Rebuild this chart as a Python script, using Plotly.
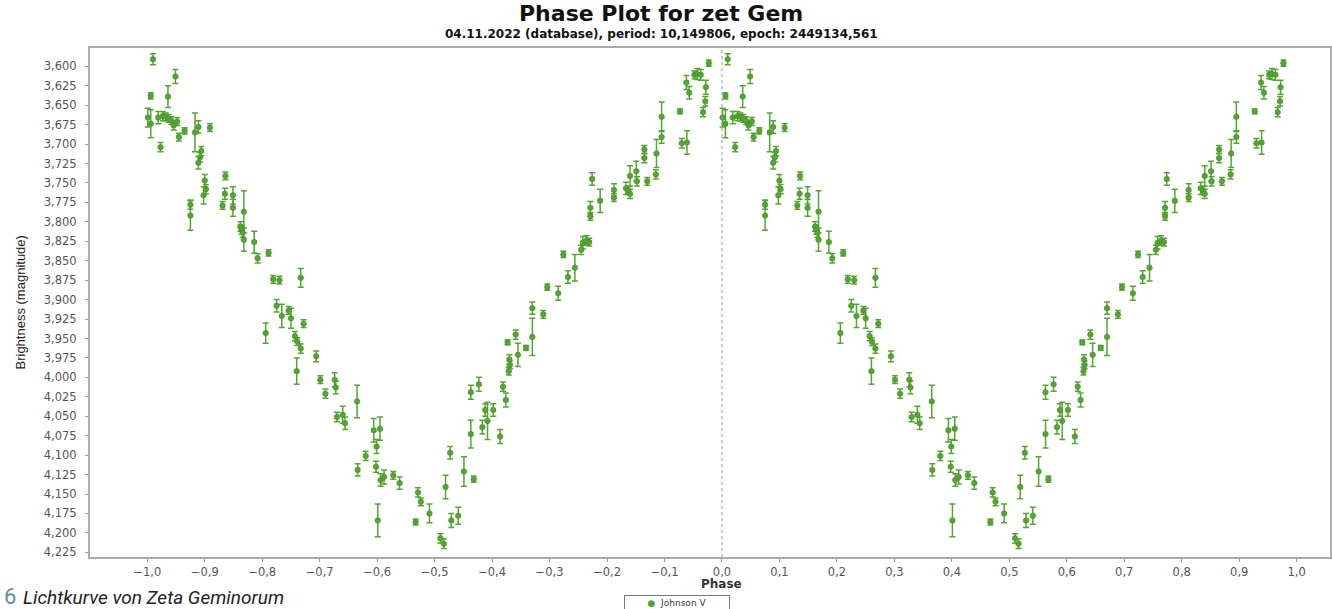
import plotly.graph_objects as go

# Left-cycle phases (the phase plot repeats each observation at phase+1)
phase = [-0.990, -0.994, -0.951, -0.964, -0.999, -0.994, -0.981, -0.977, -0.973, -0.968,
         -0.963, -0.958, -0.954, -0.948, -0.945, -0.935, -0.917, -0.911, -0.891, -0.906,
         -0.908, -0.911, -0.900, -0.898, -0.902, -0.925, -0.925, -0.864, -0.865, -0.869,
         -0.851, -0.851, -0.832, -0.838, -0.836, -0.834, -0.832, -0.814, -0.808, -0.789,
         -0.781, -0.770, -0.733, -0.775, -0.766, -0.754, -0.750, -0.728, -0.794, -0.743,
         -0.739, -0.733, -0.740, -0.706, -0.699, -0.690, -0.674, -0.672, -0.670, -0.660,
         -0.656, -0.635, -0.606, -0.595, -0.601, -0.620, -0.634, -0.602, -0.594, -0.588,
         -0.572, -0.561, -0.599, -0.529, -0.524, -0.533, -0.509, -0.490, -0.484, -0.471,
         -0.459, -0.481, -0.473, -0.449, -0.432, -0.437, -0.437, -0.423, -0.417, -0.412,
         -0.408, -0.398, -0.386, -0.381, -0.376, -0.373, -0.370, -0.369, -0.371, -0.359,
         -0.355, -0.341, -0.330, -0.330, -0.311, -0.304, -0.285, -0.276, -0.268, -0.256,
         -0.245, -0.242, -0.236, -0.231, -0.229, -0.229, -0.226, -0.212, -0.188, -0.188,
         -0.167, -0.163, -0.160, -0.160, -0.149, -0.148, -0.130, -0.135, -0.135, -0.115,
         -0.114, -0.105, -0.105, -0.073, -0.070, -0.061, -0.062, -0.057, -0.048, -0.043,
         -0.037, -0.028, -0.029, -0.033, -0.023]

magnitude = [3.591, 3.638, 3.613, 3.639, 3.666, 3.674, 3.666, 3.704, 3.664, 3.665,
             3.667, 3.670, 3.676, 3.671, 3.691, 3.683, 3.685, 3.678, 3.679, 3.709,
             3.717, 3.724, 3.747, 3.758, 3.766, 3.778, 3.792, 3.741, 3.764, 3.779,
             3.766, 3.782, 3.787, 3.806, 3.810, 3.814, 3.823, 3.826, 3.847, 3.840,
             3.874, 3.875, 3.872, 3.908, 3.921, 3.914, 3.924, 3.931, 3.943, 3.947,
             3.954, 3.963, 3.992, 3.973, 4.003, 4.021, 4.003, 4.013, 4.051, 4.048,
             4.059, 4.031, 4.068, 4.066, 4.089, 4.101, 4.119, 4.115, 4.132, 4.128,
             4.126, 4.136, 4.184, 4.148, 4.160, 4.186, 4.175, 4.207, 4.214, 4.184,
             4.178, 4.141, 4.097, 4.121, 4.131, 4.073, 4.019, 4.009, 4.064, 4.042,
             4.056, 4.042, 4.076, 4.012, 4.029, 3.955, 3.977, 3.984, 3.992, 3.945,
             3.971, 3.962, 3.911, 3.948, 3.919, 3.884, 3.892, 3.842, 3.871, 3.859,
             3.836, 3.827, 3.824, 3.826, 3.782, 3.793, 3.745, 3.773, 3.759, 3.769,
             3.757, 3.760, 3.764, 3.741, 3.735, 3.748, 3.748, 3.707, 3.718, 3.739,
             3.712, 3.665, 3.691, 3.658, 3.699, 3.698, 3.621, 3.634, 3.611, 3.610,
             3.611, 3.627, 3.645, 3.659, 3.596]

error = [0.007, 0.004, 0.009, 0.014, 0.012, 0.018, 0.008, 0.006, 0.006, 0.005,
         0.005, 0.005, 0.006, 0.005, 0.005, 0.004, 0.025, 0.008, 0.005, 0.006,
         0.006, 0.008, 0.008, 0.006, 0.011, 0.006, 0.019, 0.005, 0.007, 0.005,
         0.011, 0.011, 0.027, 0.006, 0.006, 0.006, 0.015, 0.014, 0.006, 0.004,
         0.005, 0.005, 0.012, 0.008, 0.015, 0.005, 0.013, 0.005, 0.013, 0.006,
         0.005, 0.006, 0.017, 0.007, 0.005, 0.006, 0.009, 0.008, 0.006, 0.011,
         0.008, 0.021, 0.015, 0.015, 0.009, 0.006, 0.008, 0.007, 0.008, 0.009,
         0.005, 0.008, 0.021, 0.006, 0.005, 0.004, 0.012, 0.006, 0.006, 0.009,
         0.011, 0.015, 0.008, 0.019, 0.004, 0.018, 0.009, 0.009, 0.009, 0.008,
         0.024, 0.008, 0.009, 0.006, 0.009, 0.003, 0.006, 0.005, 0.005, 0.006,
         0.015, 0.003, 0.008, 0.024, 0.005, 0.004, 0.009, 0.004, 0.008, 0.017,
         0.006, 0.008, 0.006, 0.005, 0.008, 0.005, 0.008, 0.015, 0.008, 0.005,
         0.008, 0.005, 0.006, 0.013, 0.013, 0.006, 0.005, 0.005, 0.006, 0.006,
         0.018, 0.019, 0.008, 0.003, 0.006, 0.015, 0.009, 0.008, 0.005, 0.007,
         0.007, 0.009, 0.006, 0.006, 0.004]

series_name = "Johnson V"
title_text = "Phase Plot for zet Gem"
subtitle_text = "04.11.2022 (database), period: 10,149806, epoch: 2449134,561"
x_title = "Phase"
y_title = "Brightness (magnitude)"
caption_num = "6"
caption_text = "Lichtkurve von Zeta Geminorum"

GREEN = "#55a534"

x_all = phase + [p + 1 for p in phase]
y_all = magnitude + magnitude
e_all = error + error

fig = go.Figure()
fig.add_trace(go.Scatter(
    x=x_all, y=y_all, mode="markers", name=series_name, showlegend=False,
    marker=dict(size=5.5, color=GREEN, line=dict(width=0.6, color="#3f8a22")),
    error_y=dict(type="data", array=e_all, visible=True, color=GREEN,
                 thickness=1.5, width=3),
))

fig.add_shape(type="line", xref="x", yref="paper", x0=0, x1=0, y0=0, y1=1,
              line=dict(color="#9a9a9a", width=1, dash="dot"))

fig.update_layout(
    width=1332, height=609,
    margin=dict(l=90, r=2, t=48, b=52, autoexpand=False),
    paper_bgcolor="white", plot_bgcolor="white",
    separators=",.",
    showlegend=False,
    annotations=[
        dict(text="<b>" + title_text + "</b>", xref="paper", yref="paper",
             x=0.4605, y=1.0, yanchor="bottom", yshift=20, showarrow=False,
             font=dict(family="DejaVu Sans", size=22, color="#111")),
        dict(text="<b>" + subtitle_text + "</b>", xref="paper", yref="paper",
             x=0.4605, y=1.0, yanchor="bottom", yshift=5, showarrow=False,
             font=dict(family="DejaVu Sans", size=12, color="#111")),
        dict(text="<b>" + x_title + "</b>", xref="paper", yref="paper",
             x=0.509, y=0, yanchor="top", yshift=-18, showarrow=False,
             font=dict(family="DejaVu Sans", size=12, color="#333")),
        dict(text=y_title, xref="paper", yref="paper", x=0, xanchor="center",
             xshift=-70, y=0.5, textangle=-90, showarrow=False,
             font=dict(family="Liberation Sans Narrow, Liberation Sans", size=13, color="#222")),
        dict(text=caption_num, xref="paper", yref="paper", x=0, xanchor="left",
             xshift=-88, y=0, yanchor="top", yshift=-25, showarrow=False,
             font=dict(family="Roboto", size=22, color="#5f8ea6")),
        dict(text="<i>" + caption_text + "</i>", xref="paper", yref="paper", x=0,
             xanchor="left", xshift=-69, y=0, yanchor="top", yshift=-27, showarrow=False,
             font=dict(family="Roboto", size=19, color="#222")),
        # legend box
        dict(text="<span style='color:" + GREEN + "'>●</span>  " + series_name,
             xref="paper", yref="paper", x=0.473, xanchor="center", y=0, yanchor="top",
             yshift=-38, showarrow=False, bordercolor="#777", borderwidth=1,
             borderpad=2, bgcolor="white", width=100, align="center",
             font=dict(family="DejaVu Sans", size=9, color="#333")),
    ],
)

fig.update_xaxes(range=[-1.0997, 1.058], tickmode="array",
                 tickvals=[round(-1.0 + 0.1 * i, 1) for i in range(21)],
                 tickformat=".1f", ticks="outside", ticklen=3, tickcolor="#999",
                 showgrid=False, zeroline=False, showline=True, linecolor="#aaa",
                 linewidth=2, mirror=True,
                 tickfont=dict(family="DejaVu Sans", size=11.5, color="#555"))
fig.update_yaxes(range=[4.231, 3.5765], tickmode="array",
                 tickvals=[round(3.6 + 0.025 * i, 3) for i in range(26)],
                 tickformat=".3f", ticks="outside", ticklen=3, tickcolor="#999",
                 ticklabelstandoff=6,
                 showgrid=False, zeroline=False, showline=True, linecolor="#aaa",
                 linewidth=2, mirror=True,
                 tickfont=dict(family="DejaVu Sans", size=11.5, color="#555"))

fig.write_html("out.html", config={"displayModeBar": False},
               post_script="document.body.style.margin='0';document.body.style.overflow='hidden';")
